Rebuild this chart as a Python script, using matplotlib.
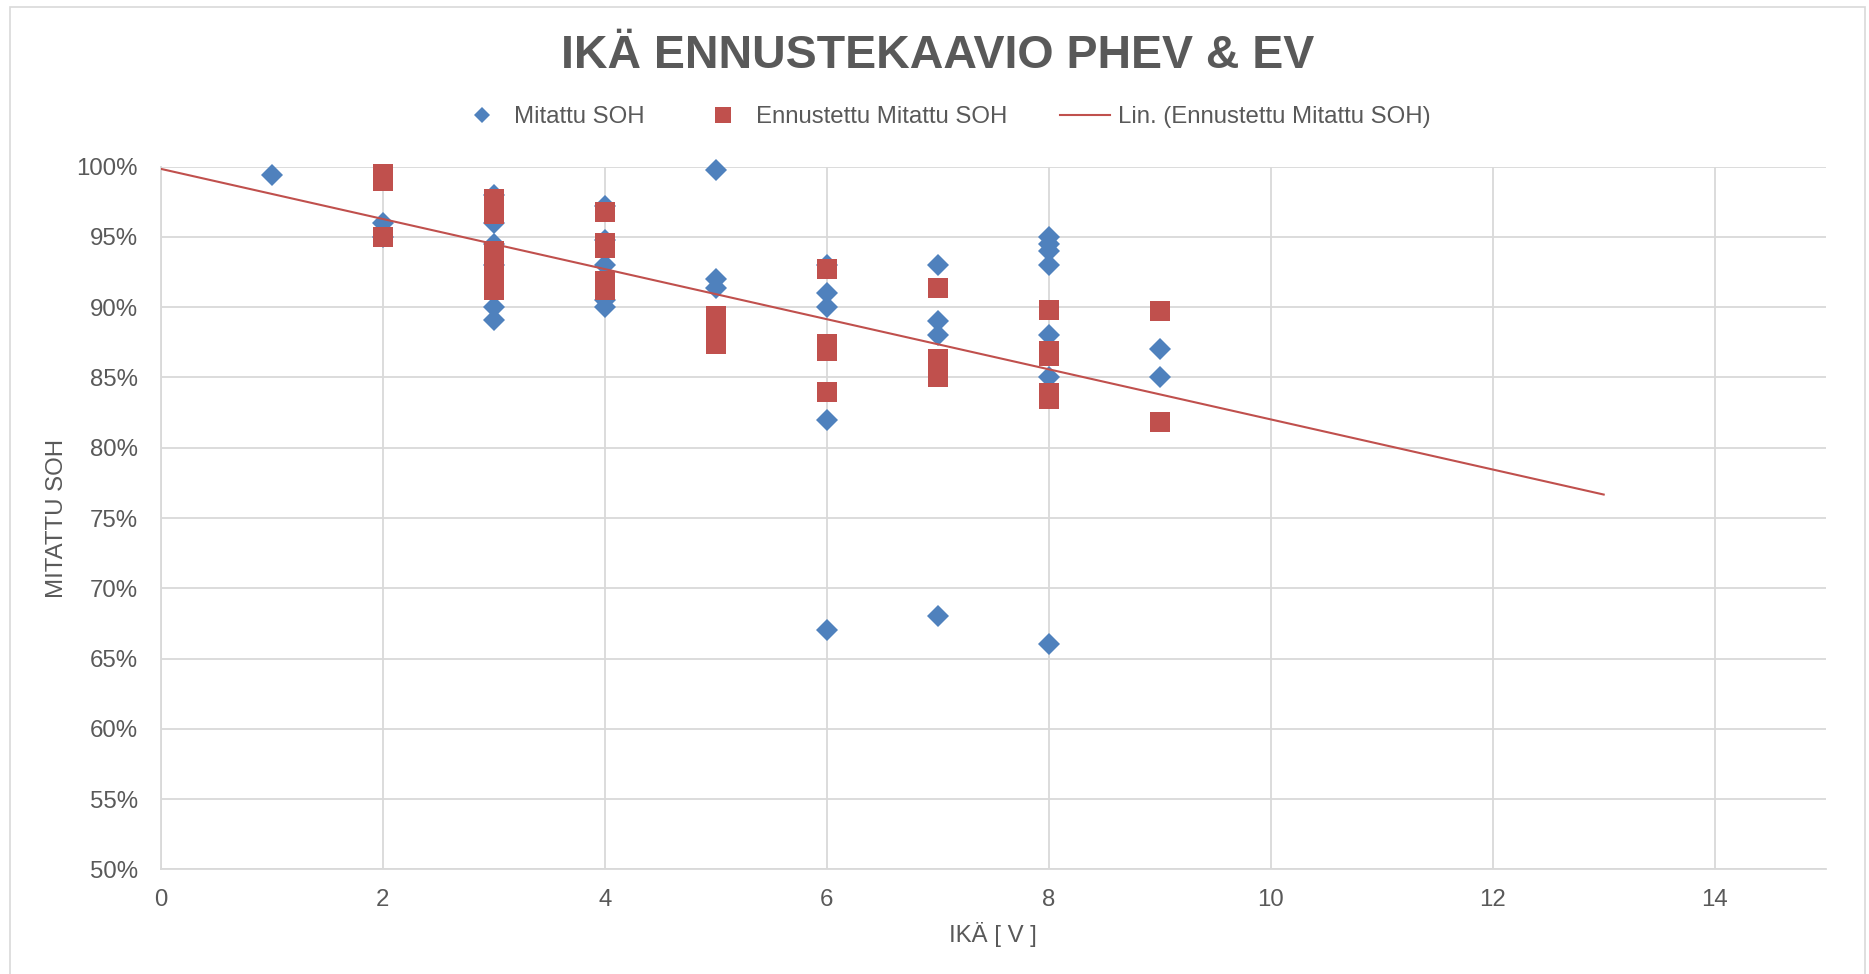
import numpy as np
import matplotlib
matplotlib.use("Agg")
import matplotlib.pyplot as plt
from matplotlib.patches import Rectangle
from matplotlib.ticker import FuncFormatter

# ---------------- data ----------------
title = "IKÄ ENNUSTEKAAVIO PHEV & EV"
x_label = "IKÄ [ V ]"
y_label = "MITATTU SOH"
series_names = ["Mitattu SOH", "Ennustettu Mitattu SOH",
                "Lin. (Ennustettu Mitattu SOH)"]

measured_age = [1, 2, 2, 3, 3, 3, 3, 3, 3, 4, 4, 4, 4, 4, 5, 5, 5,
                6, 6, 6, 6, 6, 7, 7, 7, 7, 8, 8, 8, 8, 8, 8, 8, 9, 9]
measured_soh = [99.4, 96.0, 95.0, 98.0, 96.0, 94.5, 93.0, 90.0, 89.1,
                97.2, 94.8, 93.0, 90.5, 90.0, 99.8, 92.0, 91.4,
                93.0, 91.0, 90.0, 82.0, 67.0, 93.0, 89.0, 88.0, 68.0,
                95.0, 94.5, 94.0, 93.0, 88.0, 85.0, 66.0, 87.0, 85.0]

predicted_age = [2, 2, 2, 3, 3, 3, 3, 3, 3, 3, 3, 4, 4, 4, 4, 4, 5, 5, 5,
                 6, 6, 6, 6, 7, 7, 7, 7, 8, 8, 8, 8, 8, 9, 9]
predicted_soh = [99.5, 99.0, 95.0, 97.7, 97.2, 96.6, 94.0, 93.3, 92.5, 91.8, 91.2,
                 96.8, 94.6, 94.2, 91.9, 91.2, 89.4, 88.1, 87.4,
                 92.7, 87.4, 86.9, 84.0, 91.4, 86.3, 85.6, 85.0,
                 89.8, 86.9, 86.5, 83.9, 83.5, 89.7, 81.8]

# trendline extent (Excel forecast backward / forward)
trend_range = [0, 13]

x_ticks = [0, 2, 4, 6, 8, 10, 12, 14]
y_ticks = [50, 55, 60, 65, 70, 75, 80, 85, 90, 95, 100]

# ---------------- style ----------------
BLUE = "#4F81BD"
RED = "#C0504D"
GRID = "#D9D9D9"
TXT = "#595959"
FONT = "Liberation Sans"

plt.rcParams["font.family"] = [FONT, "DejaVu Sans"]

W, H = 1869, 974
fig = plt.figure(figsize=(W / 100, H / 100), dpi=100)
ax = fig.add_axes([160.7 / W, 1 - 869.3 / H, (1825.7 - 160.7) / W, (869.3 - 166.7) / H])

# chart border
fig.patches.append(Rectangle((10 / W, -0.05), (1865 - 10) / W, 1.05 - 7 / H,
                             transform=fig.transFigure, fill=False,
                             edgecolor=GRID, lw=1.2))

ax.plot(measured_age, measured_soh, linestyle="none", marker="D",
        markersize=11.5, color=BLUE, markeredgewidth=0, zorder=3,
        clip_on=False, label=series_names[0])
ax.plot(predicted_age, predicted_soh, linestyle="none", marker="s",
        markersize=14.5, color=RED, markeredgewidth=0, zorder=4,
        clip_on=False, label=series_names[1])

coef = np.polyfit(predicted_age, predicted_soh, 1)
tx = np.array(trend_range, dtype=float)
ax.plot(tx, np.polyval(coef, tx), color=RED, lw=1.5, zorder=5,
        label=series_names[2])

ax.set_xlim(0, 15)
ax.set_ylim(50, 100)
ax.set_xticks(x_ticks)
ax.set_yticks(y_ticks)
ax.yaxis.set_major_formatter(FuncFormatter(lambda v, p: f"{v:.0f}%"))
ax.grid(True, color=GRID, lw=1.3, zorder=0)
ax.set_axisbelow(True)
for s in ["top", "right"]:
    ax.spines[s].set_visible(False)
for s in ["left", "bottom"]:
    ax.spines[s].set_color(GRID)
    ax.spines[s].set_linewidth(1.3)
ax.tick_params(axis="both", length=0, labelsize=17.3, labelcolor=TXT)
ax.tick_params(axis="y", pad=16.3)
ax.tick_params(axis="x", pad=14.5)

ax.set_xlabel(x_label, fontsize=17.3, color=TXT)
ax.xaxis.label.set_va("baseline")
ax.xaxis.set_label_coords(0.5, -(942 - 869.3) / (869.3 - 166.7))
ax.set_ylabel(y_label, fontsize=17.3, color=TXT)
ax.yaxis.label.set_va("center")
ax.yaxis.set_label_coords((57 - 160.7) / (1825.7 - 160.7), 0.5)

fig.text(938 / W, 1 - 68 / H, title, ha="center", va="baseline",
         fontsize=33.5, fontweight="bold", color=TXT, family=[FONT, "DejaVu Sans"])

leg = ax.legend(loc="center", bbox_to_anchor=(943.5 / W, 1 - 117 / H),
                bbox_transform=fig.transFigure, ncol=3, frameon=False,
                fontsize=17.3, handlelength=2.1, handletextpad=0.3,
                columnspacing=2.2, markerscale=0.75, borderpad=0)
for t in leg.get_texts():
    t.set_color(TXT)

fig.savefig("out.png", dpi=100, facecolor="white")
